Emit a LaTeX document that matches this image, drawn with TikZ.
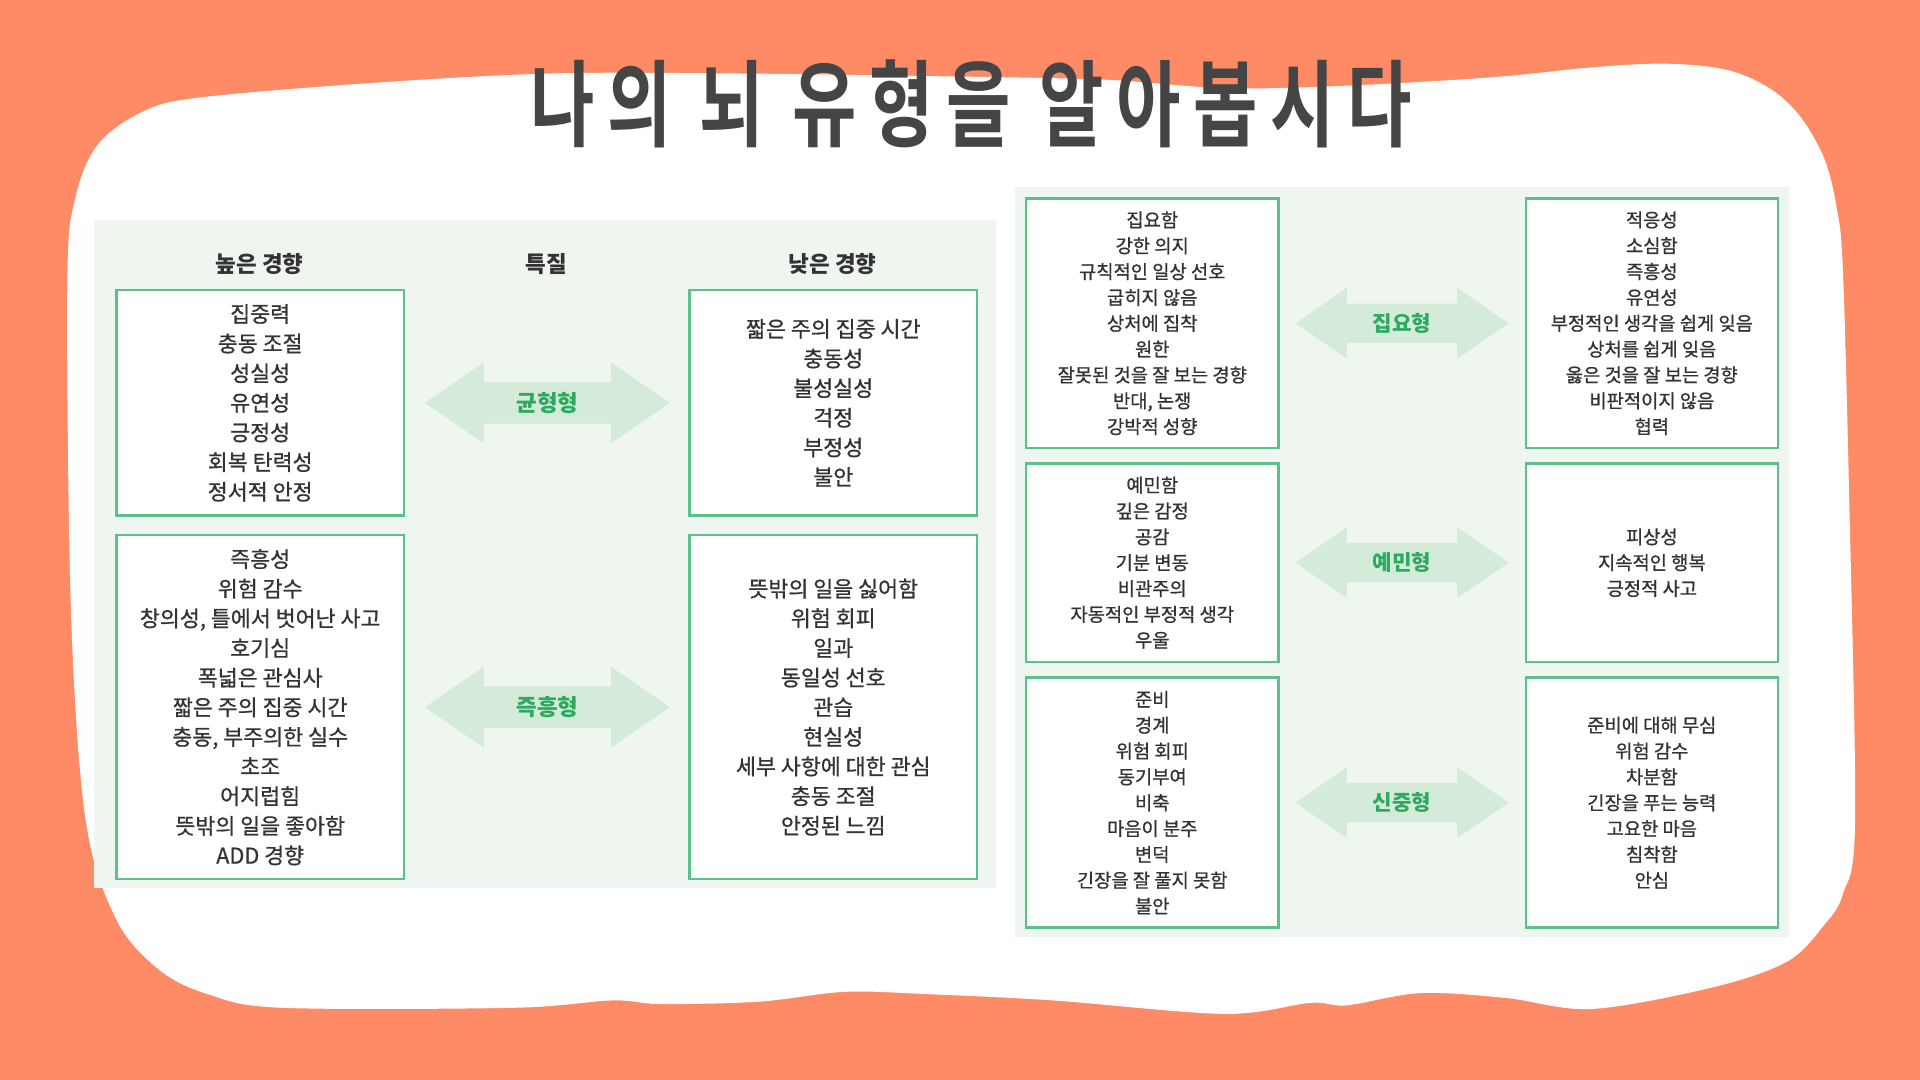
\documentclass[tikz,border=0pt]{standalone}
\usepackage{fontspec}
\setmainfont{Noto Sans CJK KR}
\newfontfamily\boxfont{Noto Sans CJK KR}[FakeBold=0.8]
\newfontfamily\titlefont{Noto Sans CJK KR Bold}[LetterSpace=18]
\usepackage{graphicx}

\definecolor{coral}{RGB}{255,138,102}
\definecolor{panel}{RGB}{239,246,239}
\definecolor{boxline}{RGB}{92,192,138}
\definecolor{arrowfill}{RGB}{212,235,218}
\definecolor{labelgreen}{RGB}{46,170,96}
\definecolor{textgray}{RGB}{51,51,51}
\definecolor{titlegray}{RGB}{69,69,69}

\tikzset{
  traitbox/.style={draw=boxline, line width=1pt, fill=white, inner sep=0pt,
    align=center, text=textgray},
  bigtext/.style={font=\boxfont\fontsize{8.7}{11.86}\selectfont},
  smalltext/.style={font=\boxfont\fontsize{7.5}{10.34}\selectfont},
  header/.style={font=\fontsize{9}{11}\selectfont\bfseries, text=textgray},
  typelabel/.style={text=labelgreen, inner sep=0pt},
  typearrow/.style={fill=arrowfill}
}

\begin{document}
\begin{tikzpicture}[x=0.49pt, y=-0.49pt]

\fill[coral] (0,0) rectangle (1568,882);

\fill[white] plot[smooth cycle, tension=0.55] coordinates {
  (55,230) (62,160) (80,118) (115,92) (160,80) (300,68) (450,60) (600,60)
  (750,62) (900,65) (1000,72) (1100,70) (1220,63) (1300,55) (1360,52)
  (1410,57) (1445,72) (1470,95) (1490,130) (1500,170) (1505,220) (1510,400)
  (1515,670) (1505,730) (1490,755) (1460,785) (1400,806) (1300,824)
  (1230,815) (1160,811) (1100,821) (1070,819) (1000,828) (860,817)
  (760,812) (690,810) (620,818) (540,820) (500,817) (420,823) (230,823)
  (170,812) (130,792) (95,751) (70,670) (58,500)};

\node[text=titlegray] (title) at (793,85)
  {\scalebox{1}[1.35]{\titlefont\fontsize{28}{30}\selectfont 나의 뇌 유형을 알아봅시다}};

\fill[panel] (77,180) rectangle (813,725);
\fill[panel] (829,153) rectangle (1461,765);

\node[header] (hhigh)  at (212,216) {높은 경향};
\node[header] (htrait) at (446,216) {특질};
\node[header] (hlow)   at (680,216) {낮은 경향};

\node[traitbox, bigtext, minimum width=115.2pt, minimum height=90.2pt] (high1) at (212.5,329)
  {집중력\\충동 조절\\성실성\\유연성\\긍정성\\회복 탄력성\\정서적 안정};
\node[traitbox, bigtext, minimum width=115.2pt, minimum height=90.2pt] (low1) at (680.5,329)
  {짧은 주의 집중 시간\\충동성\\불성실성\\걱정\\부정성\\불안};
\node[traitbox, bigtext, minimum width=115.2pt, minimum height=137.7pt] (high2) at (212.5,577.5)
  {즉흥성\\위험 감수\\창의성, 틀에서 벗어난 사고\\호기심\\폭넓은 관심사\\짧은 주의 집중 시간\\충동, 부주의한 실수\\초조\\어지럽힘\\뜻밖의 일을 좋아함\\ADD 경향};
\node[traitbox, bigtext, minimum width=115.2pt, minimum height=137.7pt] (low2) at (680.5,577.5)
  {뜻밖의 일을 싫어함\\위험 회피\\일과\\동일성 선호\\관습\\현실성\\세부 사항에 대한 관심\\충동 조절\\안정된 느낌};

\foreach \y/\lab [count=\i] in {329/균형형, 577.5/즉흥형} {
  \fill[typearrow, shift={(447,\y)}] (-100,0) -- (-52,-33) -- (-52,-17) -- (52,-17)
    -- (52,-33) -- (100,0) -- (52,33) -- (52,17) -- (-52,17) -- (-52,33) -- cycle;
  \node[typelabel, font=\fontsize{9}{11}\selectfont\bfseries] (lefttype\i) at (447,\y) {\lab};
}

\node[traitbox, smalltext, minimum width=100.9pt, minimum height=100pt] (strong1) at (941,264)
  {집요함\\강한 의지\\규칙적인 일상 선호\\굽히지 않음\\상처에 집착\\원한\\잘못된 것을 잘 보는 경향\\반대, 논쟁\\강박적 성향};
\node[traitbox, smalltext, minimum width=100.9pt, minimum height=100pt] (weak1) at (1349,264)
  {적응성\\소심함\\즉흥성\\유연성\\부정적인 생각을 쉽게 잊음\\상처를 쉽게 잊음\\옳은 것을 잘 보는 경향\\비판적이지 않음\\협력};
\node[traitbox, smalltext, minimum width=100.9pt, minimum height=79.4pt] (strong2) at (941,459.5)
  {예민함\\깊은 감정\\공감\\기분 변동\\비관주의\\자동적인 부정적 생각\\우울};
\node[traitbox, smalltext, minimum width=100.9pt, minimum height=79.4pt] (weak2) at (1349,459.5)
  {피상성\\지속적인 행복\\긍정적 사고};
\node[traitbox, smalltext, minimum width=100.9pt, minimum height=100pt] (strong3) at (941,655.5)
  {준비\\경계\\위험 회피\\동기부여\\비축\\마음이 분주\\변덕\\긴장을 잘 풀지 못함\\불안};
\node[traitbox, smalltext, minimum width=100.9pt, minimum height=100pt] (weak3) at (1349,655.5)
  {준비에 대해 무심\\위험 감수\\차분함\\긴장을 푸는 능력\\고요한 마음\\침착함\\안심};

\foreach \y/\lab [count=\i] in {264/집요형, 459.5/예민형, 655.5/신중형} {
  \fill[typearrow, shift={(1145,\y)}] (-87,0) -- (-45,-29) -- (-45,-16) -- (45,-16)
    -- (45,-29) -- (87,0) -- (45,29) -- (45,16) -- (-45,16) -- (-45,29) -- cycle;
  \node[typelabel, font=\fontsize{8.5}{10}\selectfont\bfseries] (righttype\i) at (1145,\y) {\lab};
}

\end{tikzpicture}
\end{document}
